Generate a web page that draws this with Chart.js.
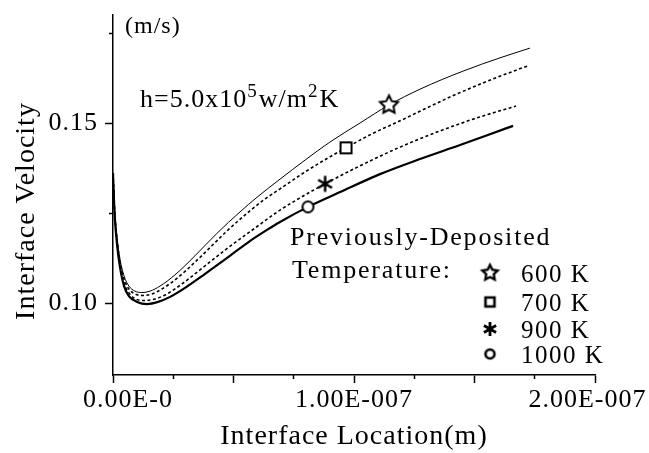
<!DOCTYPE html>
<html>
<head>
<meta charset="utf-8">
<script src="https://cdn.jsdelivr.net/npm/chart.js@4.4.0/dist/chart.umd.min.js"></script>
<style>
  html, body { margin: 0; padding: 0; background: #fff; }
  #velChart { display: block; }
</style>
</head>
<body>
<canvas id="velChart" width="649" height="453"></canvas>
<script>
// interface location (units of 1e-7 m) and interface velocity (m/s)
const loc600 = [0, 0.004, 0.008, 0.017, 0.029, 0.046, 0.066, 0.091, 0.120, 0.154, 0.195, 0.257, 0.340, 0.432, 0.527, 0.598, 0.693, 0.797, 0.900, 1.025, 1.145, 1.274, 1.452, 1.606, 1.730];
const vel600 = [0.1361, 0.1297, 0.1247, 0.1181, 0.1122, 0.1075, 0.1047, 0.1033, 0.1029, 0.1033, 0.1047, 0.1078, 0.1131, 0.1194, 0.1253, 0.1294, 0.1344, 0.1397, 0.1447, 0.1500, 0.1550, 0.1594, 0.1644, 0.1681, 0.1708];

const loc700 = [0, 0.004, 0.008, 0.017, 0.029, 0.046, 0.066, 0.091, 0.124, 0.162, 0.203, 0.266, 0.349, 0.473, 0.568, 0.631, 0.693, 0.797, 0.900, 0.967, 1.066, 1.191, 1.398, 1.564, 1.718];
const vel700 = [0.1361, 0.1294, 0.1242, 0.1172, 0.1114, 0.1067, 0.1039, 0.1025, 0.1021, 0.1025, 0.1039, 0.1069, 0.1119, 0.1200, 0.1256, 0.1289, 0.1317, 0.1364, 0.1406, 0.1431, 0.1467, 0.1506, 0.1572, 0.1619, 0.1658];

const loc900 = [0, 0.004, 0.008, 0.017, 0.029, 0.046, 0.066, 0.095, 0.133, 0.174, 0.224, 0.286, 0.361, 0.465, 0.589, 0.693, 0.776, 0.880, 1.025, 1.191, 1.357, 1.523, 1.672];
const vel900 = [0.1361, 0.1292, 0.1236, 0.1167, 0.1106, 0.1056, 0.1028, 0.1011, 0.1007, 0.1011, 0.1025, 0.1053, 0.1092, 0.1147, 0.1208, 0.1258, 0.1292, 0.1331, 0.1381, 0.1433, 0.1478, 0.1517, 0.1547];

const loc1000 = [0, 0.004, 0.008, 0.017, 0.029, 0.046, 0.066, 0.100, 0.141, 0.187, 0.237, 0.299, 0.382, 0.485, 0.568, 0.639, 0.693, 0.809, 0.942, 1.108, 1.274, 1.440, 1.564, 1.660];
const vel1000 = [0.1361, 0.1289, 0.1233, 0.1161, 0.1100, 0.1047, 0.1019, 0.1003, 0.0997, 0.1003, 0.1017, 0.1042, 0.1081, 0.1131, 0.1172, 0.1203, 0.1225, 0.1267, 0.1308, 0.1358, 0.1400, 0.1439, 0.1469, 0.1492];

const seriesNames = ['600 K', '700 K', '900 K', '1000 K'];
const markerIndex = [20, 19, 17, 17];   // the one point of each curve that carries a symbol

// axes
const xMajorTicks = [0, 0.5, 1, 1.5, 2];      // x 1e-7 m
const xTickLabels = ['    0.00E-0', '', '1.00E-007', '', '2.00E-007  '];
const xMinorTicks = [0.25, 0.75, 1.25, 1.75];
const yMajorTicks = [0.10, 0.15];
const yTickLabels = ['0.10', '0.15'];
const yMinorTicks = [0.125, 0.175];

const FONT = '"Liberation Serif", "Times New Roman", serif';

// marker symbols drawn on small canvases
function makeMarker(kind, size, lw) {
  const c = document.createElement('canvas');
  const s = Math.ceil(size + lw * 2 + 2);
  c.width = s; c.height = s;
  const g = c.getContext('2d');
  g.translate(s / 2, s / 2);
  g.lineWidth = lw;
  g.strokeStyle = '#000';
  g.fillStyle = '#fff';
  const r = size / 2;
  g.beginPath();
  if (kind === 'star') {
    for (let i = 0; i < 10; i++) {
      const a = -Math.PI / 2 + i * Math.PI / 5;
      const rr = i % 2 ? r * 0.5 : r;
      g.lineTo(Math.cos(a) * rr, Math.sin(a) * rr);
    }
    g.closePath(); g.fill(); g.stroke();
  } else if (kind === 'square') {
    g.rect(-r, -r, 2 * r, 2 * r); g.fill(); g.stroke();
  } else if (kind === 'circle') {
    g.arc(0, 0, r, 0, Math.PI * 2); g.fill(); g.stroke();
  } else {
    [90, 30, 150].forEach(d => {
      const a = d * Math.PI / 180;
      g.moveTo(Math.cos(a) * r, Math.sin(a) * r);
      g.lineTo(-Math.cos(a) * r, -Math.sin(a) * r);
    });
    g.stroke();
  }
  return c;
}

const curveMarkers = [
  makeMarker('star', 19, 2),
  makeMarker('square', 11, 2),
  makeMarker('asterisk', 16, 2.5),
  makeMarker('circle', 11, 2)
];
const legendMarkers = [
  makeMarker('star', 16, 2.4),
  makeMarker('square', 9, 2.6),
  makeMarker('asterisk', 14, 2.8),
  makeMarker('circle', 9, 2.6)
];

const lineStyles = [
  { width: 1, dash: [] },
  { width: 1.6, dash: [3, 2.5] },
  { width: 1.6, dash: [3, 2.5] },
  { width: 2.2, dash: [] }
];

const locs = [loc600, loc700, loc900, loc1000];
const vels = [vel600, vel700, vel900, vel1000];

const datasets = seriesNames.map((name, k) => ({
  label: name,
  data: locs[k].map((v, i) => ({ x: v * 1e-7, y: vels[k][i] })),
  borderColor: '#000',
  borderWidth: lineStyles[k].width,
  borderDash: lineStyles[k].dash,
  cubicInterpolationMode: 'monotone',
  fill: false,
  pointStyle: curveMarkers[k],
  pointRadius: c => c.dataIndex === markerIndex[k] ? 6 : 0,
  pointHoverRadius: 0,
  xAxisID: 'x',
  yAxisID: 'y'
}));

// text laid over the plot: unit, condition, and the symbol key
const notesPlugin = {
  id: 'notes',
  beforeDraw(chart) {
    chart.ctx.letterSpacing = '1px';
  },
  afterDraw(chart) {
    const g = chart.ctx;
    g.save();
    g.fillStyle = '#000';
    g.textBaseline = 'alphabetic';
    g.textAlign = 'left';
    g.letterSpacing = '1px';

    g.font = '24px ' + FONT;
    g.fillText('(m/s)', 125, 33);

    let x = 140;
    [['h=5.0x10', 0], ['5', 1], ['w/m', 0], ['2', 1], ['K', 0]].forEach(([t, sup]) => {
      g.font = (sup ? '19px ' : '26px ') + FONT;
      g.fillText(t, x, sup ? 97 : 107);
      x += g.measureText(t).width + (sup ? 1 : 0);
    });

    g.letterSpacing = '1.8px';
    g.font = '26px ' + FONT;
    g.fillText('Previously-Deposited', 290, 245);
    g.fillText('Temperature:', 292, 278);

    const rowY = [273, 302, 329, 354];
    g.letterSpacing = '1.5px';
    g.font = '25px ' + FONT;
    seriesNames.forEach((name, k) => {
      const m = legendMarkers[k];
      g.drawImage(m, 490 - m.width / 2, rowY[k] - m.height / 2);
      g.fillText(name, 521, rowY[k] + 9);
    });
    g.restore();
  }
};

const tickFont = { family: FONT, size: 26 };
const titleFont = { family: FONT, size: 28 };

new Chart(document.getElementById('velChart'), {
  type: 'line',
  data: { datasets },
  plugins: [notesPlugin],
  options: {
    responsive: false,
    animation: false,
    events: [],
    layout: { padding: { top: 15, right: 54, left: 0, bottom: 0 } },
    plugins: { legend: { display: false }, tooltip: { enabled: false } },
    scales: {
      x: {
        type: 'linear', position: 'bottom', min: 0, max: 2e-7, weight: 0,
        afterBuildTicks: s => { s.ticks = xMajorTicks.map(v => ({ value: v * 1e-7 })); },
        afterFit: s => { s.height = 78; s.paddingLeft = 0; s.paddingRight = 0; },
        ticks: { callback: (v, i) => xTickLabels[i], font: tickFont, color: '#000', padding: 2, maxRotation: 0, autoSkip: false },
        grid: { drawOnChartArea: false, tickLength: 8, tickColor: '#000', tickWidth: 1.5 },
        border: { color: '#000', width: 1.5 },
        title: { display: true, text: 'Interface Location(m)', font: titleFont, color: '#000', padding: { top: 0, bottom: 0 } }
      },
      x2: {
        type: 'linear', position: 'bottom', min: 0, max: 2e-7, weight: -1,
        afterBuildTicks: s => { s.ticks = xMinorTicks.map(v => ({ value: v * 1e-7 })); },
        afterFit: s => { s.height = 0; s.paddingLeft = 0; s.paddingRight = 0; },
        ticks: { display: false },
        grid: { drawOnChartArea: false, tickLength: 4, tickColor: '#000', tickWidth: 1.5 },
        border: { display: false }
      },
      y: {
        type: 'linear', position: 'left', min: 0.08, max: 0.18, weight: 0,
        afterBuildTicks: s => { s.ticks = yMajorTicks.map(v => ({ value: v })); },
        afterFit: s => { s.width = 113; s.paddingTop = 0; s.paddingBottom = 0; },
        ticks: { callback: (v, i) => yTickLabels[i], font: tickFont, color: '#000', padding: 7 },
        grid: { drawOnChartArea: false, tickLength: 8, tickColor: '#000', tickWidth: 1.5 },
        border: { color: '#000', width: 1.5 },
        title: { display: true, text: 'Interface Velocity    ', font: titleFont, color: '#000', padding: { top: 10, bottom: 0 } }
      },
      y2: {
        type: 'linear', position: 'left', min: 0.08, max: 0.18, weight: -1,
        afterBuildTicks: s => { s.ticks = yMinorTicks.map(v => ({ value: v })); },
        afterFit: s => { s.width = 0; s.paddingTop = 0; s.paddingBottom = 0; },
        ticks: { display: false },
        grid: { drawOnChartArea: false, tickLength: 4, tickColor: '#000', tickWidth: 1.5 },
        border: { display: false }
      }
    }
  }
});
</script>
</body>
</html>
